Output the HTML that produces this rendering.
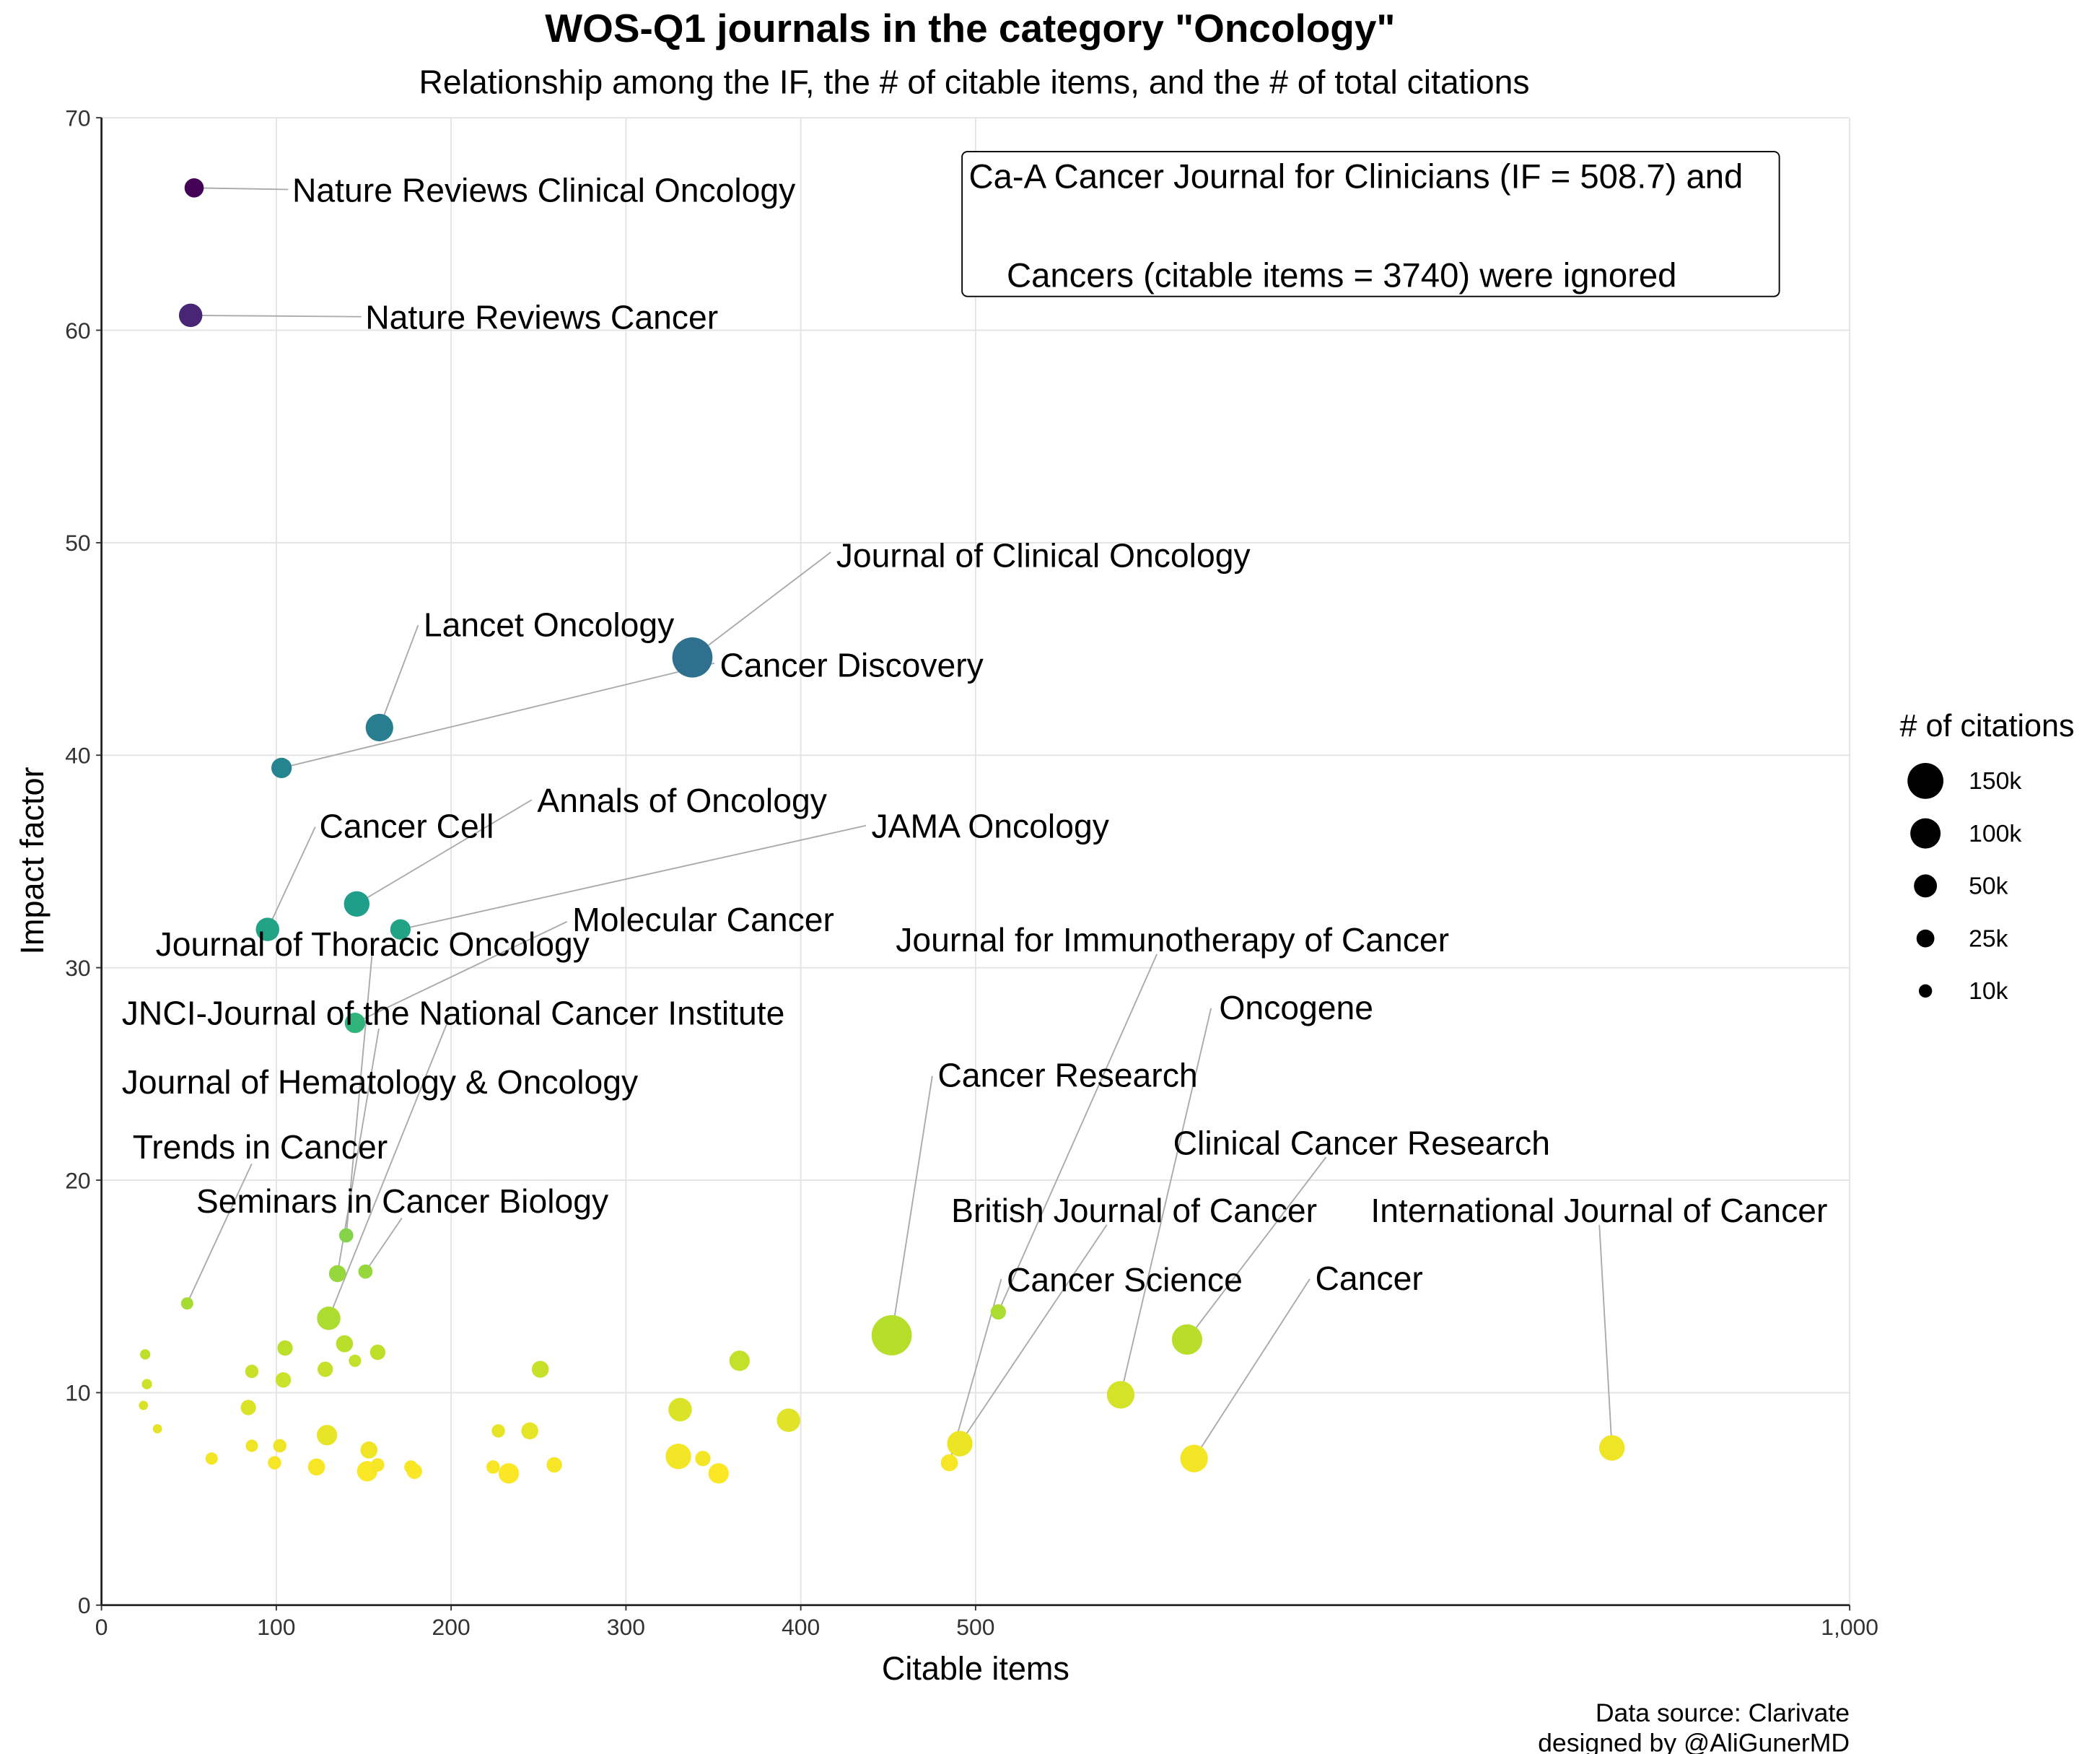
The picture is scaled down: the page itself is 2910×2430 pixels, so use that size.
<!DOCTYPE html>
<html><head><meta charset="utf-8">
<style>
html,body{margin:0;padding:0;background:#fff;}
svg{display:block;font-family:"Liberation Sans",Arial,sans-serif;}
</style></head>
<body>
<svg id="chart" width="2910" height="2430" viewBox="0 0 1552 1296" xmlns="http://www.w3.org/2000/svg">
<rect width="1552" height="1296" fill="#fff"/>
<text x="717" y="31" text-anchor="middle" font-size="29.3" font-weight="bold">WOS-Q1 journals in the category "Oncology"</text>
<text x="720" y="69" text-anchor="middle" font-size="24.7">Relationship among the IF, the # of citable items, and the # of total citations</text>
<g id="grid"></g>
<g id="axes"></g>
<g id="leaders"></g>
<g id="points"></g>
<g id="labels"></g>
<g>
<rect x="711" y="112" width="604" height="107" rx="4" fill="#fff" stroke="#000" stroke-width="1"/>
<text x="716" y="139" font-size="25.2">Ca-A Cancer Journal for Clinicians (IF = 508.7) and</text>
<text x="744" y="212" font-size="25.2">Cancers (citable items = 3740) were ignored</text>
</g>
<g id="legend">
<text x="1404" y="544" font-size="23">
# of citations</text>
</g>
<text x="721" y="1241" text-anchor="middle" font-size="24">Citable items</text>
<text transform="translate(32,636) rotate(-90)" text-anchor="middle" font-size="24">Impact factor</text>
<text x="1367" y="1272" text-anchor="end" font-size="19">Data source: Clarivate</text>
<text x="1367" y="1294" text-anchor="end" font-size="19">designed by @AliGunerMD</text>
</svg>
<script>
const xVals=[53,51,338,103,159,95,146,171,145,140,135,151,49,130,139,105,158,25,145,365,251,86,128,104,26,452,513,621,583,625,864,491,485,393,331,245,227,330,344,353,233,224,259,84,24,32,129,153,102,86,63,99,123,152,158,177,179];
const ifVals=[66.7,60.7,44.6,39.4,41.3,31.8,33.0,31.8,27.4,17.4,15.6,15.7,14.2,13.5,12.3,12.1,11.9,11.8,11.5,11.5,11.1,11.0,11.1,10.6,10.4,12.7,13.8,12.5,9.9,6.9,7.4,7.6,6.7,8.7,9.2,8.2,8.2,7.0,6.9,6.2,6.2,6.5,6.6,9.3,9.4,8.3,8.0,7.3,7.5,7.5,6.9,6.7,6.5,6.3,6.6,6.5,6.3];
const citeVals=[25000,45000,180000,30000,70000,45000,57000,30000,30000,9000,17000,9000,5000,45000,17000,12000,12000,2000,5000,30000,17000,7000,12000,12000,2000,180000,12000,90000,70000,70000,57000,57000,17000,45000,45000,17000,7000,57000,12000,30000,30000,7000,12000,12000,1000,1000,30000,17000,7000,5000,5000,7000,17000,30000,7000,7000,12000];
const labelTexts=["Nature Reviews Clinical Oncology","Nature Reviews Cancer","Journal of Clinical Oncology","Cancer Discovery","Lancet Oncology","Cancer Cell","Annals of Oncology","JAMA Oncology","Molecular Cancer","Journal of Thoracic Oncology","JNCI-Journal of the National Cancer Institute","Journal of Hematology & Oncology","Trends in Cancer","Seminars in Cancer Biology","Journal for Immunotherapy of Cancer","Cancer Science","British Journal of Cancer","Oncogene","Cancer Research","Clinical Cancer Research","International Journal of Cancer","Cancer"];
const labelPoint=[0,1,2,3,4,5,6,7,8,9,10,13,12,11,26,32,31,28,25,27,30,29];
const xTicks=[0,100,200,300,400,500,1000];
const xTickLabels=["0","100","200","300","400","500","1,000"];
const yTicks=[0,10,20,30,40,50,60,70];
const legendVals=[150000,100000,50000,25000,10000];
const legendLabels=["150k","100k","50k","25k","10k"];

const NS="http://www.w3.org/2000/svg";
const X0=75,X1=1367,Y0=1186,Y1=87;
const sx=v=>X0+(X1-X0)*v/1000;
const sy=v=>Y0-(Y0-Y1)*v/70;
const rs=c=>2.5+12*Math.sqrt(c/170000);
const vir=["#440154","#482878","#3e4989","#31688e","#26828e","#1f9e89","#35b779","#6ece58","#b5de2b","#fde725"];
function hex(h){return [1,3,5].map(i=>parseInt(h.substr(i,2),16));}
function col(v){let t=1-(v-6)/(67-6);t=Math.max(0,Math.min(1,t));const p=t*(vir.length-1),i=Math.min(Math.floor(p),vir.length-2),f=p-i;const a=hex(vir[i]),b=hex(vir[i+1]);return "rgb("+a.map((x,k)=>Math.round(x+(b[k]-x)*f)).join(",")+")";}
function mk(tag,attrs,parent){const e=document.createElementNS(NS,tag);for(const k in attrs)e.setAttribute(k,attrs[k]);parent.appendChild(e);return e;}
const grid=document.getElementById('grid'),axes=document.getElementById('axes');
yTicks.forEach(v=>{
const l=mk('line',{x1:X0,x2:X1,y1:sy(v),y2:sy(v),stroke:'#e3e3e3','stroke-width':1},grid);


const t=mk('text',{x:X0-8,y:sy(v)+6,'text-anchor':'end','font-size':17,fill:'#333'},axes);t.textContent=v;


mk('line',{x1:X0-4,x2:X0,y1:sy(v),y2:sy(v),stroke:'#333'},axes);
});
xTicks.forEach((v,i)=>{
const l=mk('line',{x1:sx(v),x2:sx(v),y1:Y1,y2:Y0,stroke:'#e3e3e3','stroke-width':1},grid);


const t=mk('text',{x:sx(v),y:Y0+22,'text-anchor':'middle','font-size':17,fill:'#333'},axes);t.textContent=xTickLabels[i];


mk('line',{x1:sx(v),x2:sx(v),y1:Y0,y2:Y0+4,stroke:'#333'},axes);
});
mk('line',{x1:X0,x2:X0,y1:Y1,y2:Y0,stroke:'#222','stroke-width':1.5},axes);
mk('line',{x1:X0,x2:X1,y1:Y0,y2:Y0,stroke:'#222','stroke-width':1.5},axes);
const pts=document.getElementById('points');
const order=xVals.map((_,i)=>i).sort((a,b)=>citeVals[b]-citeVals[a]);
order.forEach(i=>{
const c=mk('circle',{cx:sx(xVals[i]),cy:sy(ifVals[i]),r:rs(citeVals[i]),fill:col(ifVals[i])},pts);


});
const labelPos=[[216,140],[270,234],[618,410],[532,491],[313,461],[236,610],[397,591],[644,610],[423,679],[115,697],[90,748],[90,799],[98,847],[145,887],[662,694],[744,945],[703,894],[901,744],[693,794],[867,844],[1013,894],[972,944]];
const anchor=[[213,140],[267,234],[614,408],[528,490],[309,462],[233,611],[393,591],[640,610],[419,681],[275,705],[280,760],[330,757],[186,860],[297,900],[855,705],[740,945],[818,905],[895,745],[689,795],[980,855],[1182,905],[968,945]];
const ld=document.getElementById('leaders'),lb=document.getElementById('labels');
labelTexts.forEach((txt,j)=>{
const p=labelPoint[j];
const l=mk('line',{x1:anchor[j][0],y1:anchor[j][1],x2:sx(xVals[p]),y2:sy(ifVals[p]),stroke:'#aaa','stroke-width':1},ld);


const t=mk('text',{x:labelPos[j][0],y:labelPos[j][1]+9,'font-size':24.7},lb);t.textContent=txt;


});
const lg=document.getElementById('legend');
legendVals.forEach((v,i)=>{
const y=577+i*38.8;
const c=mk('circle',{cx:1423,cy:y,r:rs(v)-0.5,fill:'#000'},lg);


const t=mk('text',{x:1455,y:y+6,'font-size':18},lg);t.textContent=legendLabels[i];


});
</script>
</body></html>
